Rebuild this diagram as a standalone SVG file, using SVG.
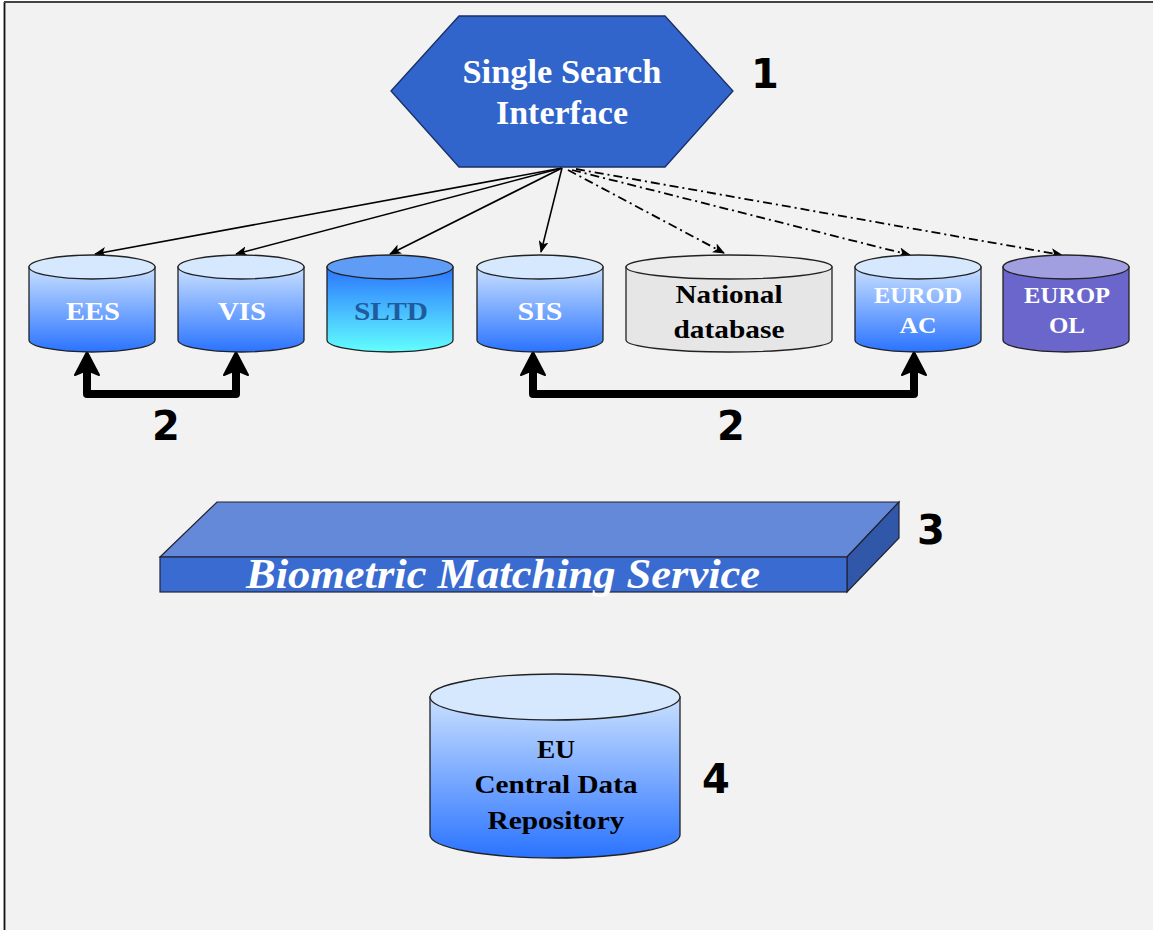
<svg xmlns="http://www.w3.org/2000/svg" width="1153" height="930" viewBox="0 0 1153 930">
<defs>
<style>
.lbl{font-family:"Liberation Serif","Times New Roman",serif;font-weight:bold;text-anchor:middle}
.num{font-family:"DejaVu Sans","Liberation Sans",sans-serif;font-weight:bold;font-size:40px;fill:#000}
.cyl{stroke:#222;stroke-width:1.3}
.thin{fill:none;stroke:#000;stroke-width:1.6}
.dd{fill:none;stroke:#000;stroke-width:1.8;stroke-dasharray:9 4 2 4}
.bold{fill:none;stroke:#000;stroke-width:8;stroke-linejoin:round}
</style>
<linearGradient id="gBlue" x1="0" y1="0" x2="0" y2="1"><stop offset="0" stop-color="#c9e0ff"/><stop offset="1" stop-color="#2a73ff"/></linearGradient>
<linearGradient id="gSltd" x1="0" y1="0" x2="0" y2="1"><stop offset="0" stop-color="#2b74ff"/><stop offset="1" stop-color="#62ffff"/></linearGradient>
<marker id="ah" viewBox="0 0 12 10" refX="11" refY="5" markerWidth="12" markerHeight="10" markerUnits="userSpaceOnUse" orient="auto">
<path d="M0,0 L12,5 L0,10 L3,5 Z" fill="#000"/>
</marker>
</defs>
<rect x="0" y="0" width="1153" height="930" fill="#ffffff"/>
<rect x="4" y="2" width="1149" height="928" fill="#f2f2f2"/>
<line x1="4.5" y1="2" x2="4.5" y2="930" stroke="#111" stroke-width="1.8"/>
<line x1="4" y1="2" x2="1153" y2="2" stroke="#444" stroke-width="1.8"/>

<g id="connectors">
<line class="thin" x1="562" y1="168" x2="95" y2="254" marker-end="url(#ah)"/>
<line class="thin" x1="562" y1="168" x2="236" y2="254" marker-end="url(#ah)"/>
<line class="thin" x1="562" y1="168" x2="390" y2="254" marker-end="url(#ah)"/>
<line class="thin" x1="562" y1="168" x2="541" y2="252" marker-end="url(#ah)"/>
<line class="dd" x1="568" y1="170" x2="724" y2="253" marker-end="url(#ah)"/>
<line class="dd" x1="572" y1="170" x2="910" y2="255" marker-end="url(#ah)"/>
<line class="dd" x1="576" y1="169" x2="1062" y2="255" marker-end="url(#ah)"/>
<polyline class="bold" points="87,370 87,394 236,394 236,370"/>
<path d="M87,352 L99,375 L87,370 L75,375 Z" fill="#000" stroke="#000" stroke-width="2" stroke-linejoin="round"/>
<path d="M236,352 L248,375 L236,370 L224,375 Z" fill="#000" stroke="#000" stroke-width="2" stroke-linejoin="round"/>
<polyline class="bold" points="533,370 533,394 914,394 914,370"/>
<path d="M533,352 L545,375 L533,370 L521,375 Z" fill="#000" stroke="#000" stroke-width="2" stroke-linejoin="round"/>
<path d="M914,352 L926,375 L914,370 L902,375 Z" fill="#000" stroke="#000" stroke-width="2" stroke-linejoin="round"/>
</g>

<g id="ssi">
<polygon points="391,91 459,16 665,16 733,91 665,167 459,167" fill="#3165cc" stroke="#1a2f66" stroke-width="1.3"/>
<text class="lbl" x="562" y="83" font-size="33" fill="#fff" textLength="199" lengthAdjust="spacingAndGlyphs">Single Search</text>
<text class="lbl" x="562" y="124" font-size="33" fill="#fff" textLength="132" lengthAdjust="spacingAndGlyphs">Interface</text>
<text class="num" x="765" y="88" text-anchor="middle">1</text>
</g>

<g id="ees">
<path class="cyl" d="M29,267 L29,340 A63,12 0 0 0 155,340 L155,267 Z" fill="url(#gBlue)"/>
<ellipse class="cyl" cx="92" cy="267" rx="63" ry="12" fill="#d6e8fd"/>
<text class="lbl" x="93" y="320" font-size="26" fill="#fff" textLength="54" lengthAdjust="spacingAndGlyphs">EES</text>
</g>
<g id="vis">
<path class="cyl" d="M178,267 L178,340 A63,12 0 0 0 304,340 L304,267 Z" fill="url(#gBlue)"/>
<ellipse class="cyl" cx="241" cy="267" rx="63" ry="12" fill="#d6e8fd"/>
<text class="lbl" x="242" y="320" font-size="26" fill="#fff" textLength="48" lengthAdjust="spacingAndGlyphs">VIS</text>
</g>
<g id="sltd">
<path class="cyl" d="M327,267 L327,340 A63,12 0 0 0 453,340 L453,267 Z" fill="url(#gSltd)"/>
<ellipse class="cyl" cx="390" cy="267" rx="63" ry="12" fill="#5f9cf6"/>
<text class="lbl" x="391" y="320" font-size="26" fill="#1f5c9e" textLength="74" lengthAdjust="spacingAndGlyphs">SLTD</text>
</g>
<g id="sis">
<path class="cyl" d="M477,267 L477,340 A63,12 0 0 0 603,340 L603,267 Z" fill="url(#gBlue)"/>
<ellipse class="cyl" cx="540" cy="267" rx="63" ry="12" fill="#d6e8fd"/>
<text class="lbl" x="540" y="320" font-size="26" fill="#fff" textLength="45" lengthAdjust="spacingAndGlyphs">SIS</text>
</g>
<g id="national">
<path class="cyl" d="M626,267 L626,340 A103,12 0 0 0 832,340 L832,267 Z" fill="#e6e6e6"/>
<ellipse class="cyl" cx="729" cy="267" rx="103" ry="12" fill="#ececec"/>
<text class="lbl" x="729" y="303" font-size="26" fill="#000" textLength="107" lengthAdjust="spacingAndGlyphs">National</text>
<text class="lbl" x="729" y="338" font-size="26" fill="#000" textLength="111" lengthAdjust="spacingAndGlyphs">database</text>
</g>
<g id="eurodac">
<path class="cyl" d="M855,267 L855,340 A63,12 0 0 0 981,340 L981,267 Z" fill="url(#gBlue)"/>
<ellipse class="cyl" cx="918" cy="267" rx="63" ry="12" fill="#d6e8fd"/>
<text class="lbl" x="918" y="303" font-size="24" fill="#fff" textLength="88" lengthAdjust="spacingAndGlyphs">EUROD</text>
<text class="lbl" x="918" y="333" font-size="24" fill="#fff" textLength="37" lengthAdjust="spacingAndGlyphs">AC</text>
</g>
<g id="europol">
<path class="cyl" d="M1003,267 L1003,340 A63,12 0 0 0 1129,340 L1129,267 Z" fill="#6a66cc"/>
<ellipse class="cyl" cx="1066" cy="267" rx="63" ry="12" fill="#a19fe0"/>
<text class="lbl" x="1067" y="303" font-size="24" fill="#fff" textLength="86" lengthAdjust="spacingAndGlyphs">EUROP</text>
<text class="lbl" x="1067" y="333" font-size="24" fill="#fff" textLength="36" lengthAdjust="spacingAndGlyphs">OL</text>
</g>
<text class="num" x="166" y="440" text-anchor="middle">2</text>
<text class="num" x="731" y="440" text-anchor="middle">2</text>

<g id="bms">
<polygon points="160,557 217,502 899,502 847,557" fill="#6389d8" stroke="#223" stroke-width="1.2"/>
<polygon points="847,557 899,502 899,538 847,592" fill="#3158a8" stroke="#223" stroke-width="1.2"/>
<rect x="160" y="557" width="687" height="35" fill="#3a6bd0" stroke="#223" stroke-width="1.2"/>
<text x="503" y="588" font-family="'Liberation Serif','Times New Roman',serif" font-style="italic" font-weight="bold" font-size="42" fill="#fff" text-anchor="middle" textLength="514" lengthAdjust="spacingAndGlyphs">Biometric Matching Service</text>
<text class="num" x="931" y="544" text-anchor="middle">3</text>
</g>

<g id="eucdr">
<path class="cyl" d="M430,697 L430,835 A125,23 0 0 0 680,835 L680,697 Z" fill="url(#gBlue)"/>
<ellipse class="cyl" cx="555" cy="697" rx="125" ry="23" fill="#d6e8fd"/>
<text class="lbl" x="556" y="758" font-size="26" fill="#000" textLength="38" lengthAdjust="spacingAndGlyphs">EU</text>
<text class="lbl" x="556" y="793" font-size="26" fill="#000" textLength="163" lengthAdjust="spacingAndGlyphs">Central Data</text>
<text class="lbl" x="556" y="829" font-size="26" fill="#000" textLength="137" lengthAdjust="spacingAndGlyphs">Repository</text>
<text class="num" x="716" y="793" text-anchor="middle">4</text>
</g>
</svg>
